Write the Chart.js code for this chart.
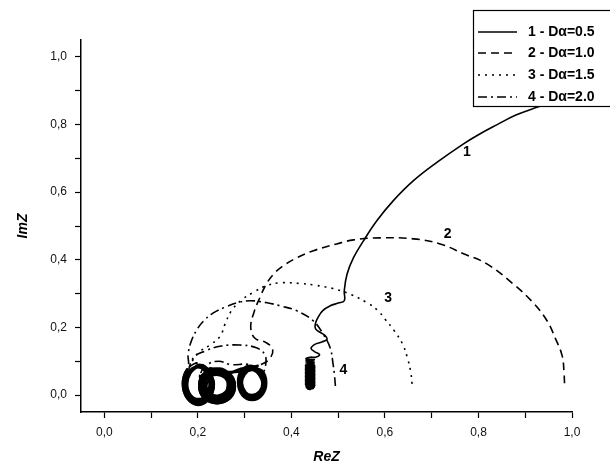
<!DOCTYPE html>
<html>
<head>
<meta charset="utf-8">
<script src="https://cdn.jsdelivr.net/npm/chart.js@4"></script>
<style>
html, body { margin: 0; padding: 0; background: #fff; }
</style>
</head>
<body>
<canvas id="nyq" width="610" height="467"></canvas>
<script>
// curve values, [ReZ, ImZ]
var curve1 = [
  [1.00,0.885],[0.965,0.869],[0.925,0.851],[0.88,0.828],[0.839,0.799],[0.80,0.77],[0.768,0.743],
  [0.711,0.688],[0.661,0.634],
  [0.618,0.575],[0.583,0.516],[0.554,0.456],[0.533,0.407],[0.519,0.358],[0.513,0.308],[0.513,0.279],
  [0.50,0.272],[0.483,0.264],[0.467,0.25],[0.457,0.23],[0.451,0.21],[0.452,0.195],[0.462,0.185],
  [0.472,0.176],[0.476,0.165],[0.465,0.157],[0.45,0.15],[0.442,0.138],[0.45,0.128],[0.46,0.12],
  [0.452,0.112],[0.44,0.112],
  [0.431,0.107],[0.449,0.105],[0.431,0.103],[0.449,0.101],[0.431,0.099],[0.449,0.097],[0.431,0.095],
  [0.449,0.093],[0.431,0.091],[0.449,0.089],[0.431,0.087],[0.449,0.085],[0.431,0.083],[0.449,0.081],
  [0.431,0.079],[0.449,0.077],[0.431,0.075],[0.449,0.073],[0.431,0.071],[0.449,0.069],[0.431,0.067],
  [0.449,0.065],[0.431,0.063],[0.449,0.061],[0.431,0.059],[0.449,0.057],[0.431,0.055],[0.449,0.053],
  [0.431,0.051],[0.449,0.049],[0.431,0.047],[0.449,0.045],[0.431,0.043],[0.449,0.041],[0.431,0.039],
  [0.449,0.037],[0.431,0.035],[0.449,0.033],[0.431,0.031],[0.449,0.029],[0.432,0.027],[0.448,0.025],
  [0.433,0.023],[0.446,0.021],[0.436,0.019],[0.442,0.018]
];
var curve2 = [
  [0.984,0.035],[0.983,0.065],[0.979,0.116],[0.964,0.169],[0.947,0.219],[0.917,0.273],[0.874,0.329],
  [0.818,0.388],[0.768,0.418],[0.718,0.447],[0.661,0.462],[0.59,0.465],[0.533,0.459],[0.497,0.447],
  [0.447,0.427],[0.41,0.405],[0.38,0.38],[0.36,0.355],[0.345,0.325],[0.333,0.29],[0.32,0.245],
  [0.313,0.2],[0.322,0.168],[0.345,0.156],[0.36,0.135],[0.352,0.105],[0.33,0.088],
  [0.316,0.083],[0.297,0.069],[0.289,0.036],[0.297,0.003],[0.316,-0.011],[0.335,0.003],[0.343,0.036],
  [0.335,0.069],[0.316,0.078],[0.30,0.061],[0.294,0.036],[0.302,0.008],[0.316,0.0],[0.332,0.011],
  [0.338,0.036],[0.33,0.063],[0.316,0.086],[0.293,0.072],[0.286,0.036],[0.295,0.0],[0.316,-0.014],
  [0.337,0.0],[0.346,0.036],[0.337,0.072],[0.316,0.076],[0.299,0.064],[0.292,0.036],[0.299,0.008],
  [0.316,-0.004],[0.333,0.008],[0.34,0.036],[0.333,0.064],[0.30,0.08],
  [0.266,0.065],[0.241,0.074],[0.216,0.06],[0.206,0.027],[0.216,-0.006],[0.241,-0.02],[0.266,-0.006],
  [0.276,0.027],[0.266,0.058],[0.241,0.066],[0.222,0.053],[0.214,0.027],[0.222,0.001],[0.241,-0.01],
  [0.26,0.001],[0.268,0.027],[0.262,0.055],[0.241,0.078],[0.213,0.064],[0.203,0.027],[0.213,-0.009],
  [0.241,-0.024],[0.269,-0.009],[0.279,0.027],[0.268,0.06],[0.241,0.069],[0.219,0.057],[0.21,0.027],
  [0.219,-0.003],[0.241,-0.015],[0.263,-0.003],[0.272,0.027],[0.263,0.057],
  [0.224,0.077],[0.201,0.095],[0.178,0.077],[0.168,0.033],[0.178,-0.011],[0.201,-0.029],[0.224,-0.011],
  [0.234,0.033],[0.224,0.07]
];
var curve3 = [
  [0.658,0.033],[0.655,0.07],[0.648,0.11],[0.638,0.15],[0.62,0.19],[0.60,0.225],[0.585,0.25],
  [0.562,0.273],[0.526,0.298],[0.489,0.315],[0.45,0.325],[0.419,0.33],[0.376,0.332],[0.345,0.323],
  [0.32,0.305],[0.295,0.283],[0.272,0.25],[0.258,0.21],[0.248,0.175],[0.228,0.15],[0.205,0.13],
  [0.19,0.105],
  [0.18,0.073],[0.171,0.033],[0.18,-0.007],[0.201,-0.023],[0.222,-0.007],[0.231,0.033],[0.222,0.073],
  [0.201,0.089],[0.184,0.065],[0.177,0.033],[0.184,0.001],[0.201,-0.012],[0.218,0.001],[0.225,0.033],
  [0.218,0.065],[0.201,0.083],[0.182,0.07],[0.174,0.033],[0.182,-0.004],[0.201,-0.018],[0.22,-0.004],
  [0.228,0.033],[0.22,0.07],[0.201,0.095],[0.178,0.078],[0.168,0.033],[0.178,-0.01],[0.201,-0.027],
  [0.224,-0.01],[0.234,0.033],[0.225,0.078],
  [0.241,0.07],[0.263,0.058],[0.272,0.027],[0.263,-0.004],[0.241,-0.016],[0.22,-0.004],
  [0.21,0.027],[0.22,0.056],[0.241,0.062],[0.258,0.052],[0.265,0.027],[0.258,0.003],[0.241,-0.006],
  [0.225,0.003],[0.218,0.027],[0.226,0.05],[0.241,0.078],[0.268,0.063],[0.279,0.027],[0.268,-0.009],
  [0.241,-0.024],[0.214,-0.009],[0.203,0.027],[0.214,0.063],
  [0.29,0.07],[0.316,0.083],[0.335,0.069],[0.343,0.036],[0.335,0.003],[0.316,-0.011],[0.297,0.003],
  [0.289,0.036],[0.297,0.069],[0.316,0.076],[0.333,0.064],[0.34,0.036],[0.333,0.008],[0.316,-0.004],
  [0.299,0.008],[0.292,0.036],[0.299,0.064]
];
var curve4 = [
  [0.494,0.027],[0.492,0.06],[0.489,0.092],[0.483,0.139],[0.468,0.18],[0.447,0.219],[0.412,0.249],
  [0.376,0.264],[0.348,0.273],[0.312,0.279],[0.284,0.273],[0.258,0.26],[0.233,0.243],[0.212,0.219],
  [0.199,0.196],[0.186,0.16],[0.179,0.12],[0.18,0.09],
  [0.171,0.04],[0.176,0.0],[0.195,-0.02],[0.215,-0.015],[0.228,0.015],[0.228,0.055],[0.212,0.08],
  [0.19,0.08],[0.18,0.06],[0.174,0.033],[0.182,-0.002],[0.201,-0.017],[0.22,-0.002],[0.228,0.033],
  [0.22,0.068],[0.201,0.083],[0.182,0.068],
  [0.19,0.11],[0.215,0.13],[0.25,0.145],[0.29,0.148],[0.325,0.14],[0.343,0.12],[0.345,0.09],
  [0.337,0.065],[0.316,0.08],[0.295,0.066],[0.289,0.036],[0.297,0.003],[0.316,-0.008],[0.335,0.003],
  [0.341,0.036],[0.33,0.062],[0.316,0.074],[0.299,0.064],[0.292,0.036],[0.299,0.008],[0.316,-0.003],
  [0.333,0.008],[0.339,0.036],[0.33,0.07],[0.31,0.09],
  [0.27,0.09],[0.245,0.1],[0.22,0.09],[0.205,0.06],[0.21,0.027],[0.22,-0.004],[0.243,-0.014],
  [0.265,-0.002],[0.272,0.027],[0.26,0.05],[0.24,0.06],[0.22,0.05],[0.215,0.027],[0.225,0.005],
  [0.243,-0.002],[0.26,0.01],[0.264,0.03],[0.263,0.057],[0.241,0.069],[0.219,0.057],[0.21,0.027],
  [0.219,-0.003],[0.241,-0.015],[0.263,-0.003],[0.272,0.027]
];

var seriesNames = ['1 - D\u03b1=0.5', '2 - D\u03b1=1.0', '3 - D\u03b1=1.5', '4 - D\u03b1=2.0'];
var curveNumbers = ['1', '2', '3', '4'];
// where the numbers sit next to each curve [ReZ, ImZ]
var numberSpots = [[0.775,0.718],[0.734,0.476],[0.607,0.287],[0.511,0.074]];
var dashes = [[], [8,5], [2,5], [9,4,2,4]];

var xTickValues = [0,0.1,0.2,0.3,0.4,0.5,0.6,0.7,0.8,0.9,1.0];
var yTickValues = [0,0.1,0.2,0.3,0.4,0.5,0.6,0.7,0.8,0.9,1.0];

var allCurves = [curve1, curve2, curve3, curve4];

// the tangled low-frequency end is drawn heavier, as in the original plot
function inTangle(c) {
  var a = c.p0.parsed, b = c.p1.parsed;
  return a.y < 0.09 && b.y < 0.09 && a.x < 0.46 && b.x < 0.46;
}

var datasets = allCurves.map(function(c, i) {
  return {
    label: seriesNames[i],
    data: c.map(function(p){ return {x: p[0], y: p[1]}; }),
    borderColor: '#000',
    borderWidth: 1.6,
    borderDash: dashes[i],
    pointRadius: 0,
    fill: false,
    tension: 0.4,
    segment: {
      borderWidth: function(c) { return inTangle(c) ? 2.6 : undefined; },
      borderDash: function(c) { return inTangle(c) ? [] : undefined; }
    }
  };
});

function commaLabel(v) {
  var k = Math.round(v * 10);
  if (k % 2 !== 0) return '';
  return (k / 10).toFixed(1).replace('.', ',');
}

// legend box and curve numbers drawn on top
var overlay = {
  id: 'overlay',
  afterDraw: function(chart) {
    var ctx = chart.ctx;
    var xs = chart.scales.x, ys = chart.scales.y;
    ctx.save();
    ctx.font = 'bold 14px Arial';
    ctx.fillStyle = '#000';
    ctx.textAlign = 'center';
    ctx.textBaseline = 'middle';
    numberSpots.forEach(function(p, i) {
      ctx.fillText(curveNumbers[i], xs.getPixelForValue(p[0]), ys.getPixelForValue(p[1]));
    });

    ctx.fillStyle = '#fff';
    ctx.fillRect(473, 10, 150, 96);
    ctx.strokeStyle = '#000';
    ctx.lineWidth = 1.2;
    ctx.strokeRect(473.5, 10.5, 150, 96);

    var rows = [32, 53, 75, 97];
    ctx.textAlign = 'left';
    seriesNames.forEach(function(name, i) {
      ctx.beginPath();
      ctx.setLineDash(dashes[i]);
      ctx.lineWidth = 1.6;
      ctx.moveTo(478, rows[i]);
      ctx.lineTo(517, rows[i]);
      ctx.stroke();
      ctx.setLineDash([]);
      ctx.fillStyle = '#000';
      ctx.fillText(name, 528, rows[i]);
    });
    ctx.restore();
  }
};

var ctx = document.getElementById('nyq');
var chart = new Chart(ctx, {
  type: 'line',
  data: { datasets: datasets },
  options: {
    responsive: false,
    animation: false,
    layout: { padding: { left: 0, right: 38, top: 40, bottom: 0 } },
    plugins: { legend: { display: false }, tooltip: { enabled: false } },
    scales: {
      x: {
        type: 'linear',
        min: -0.05,
        max: 1.0,
        afterBuildTicks: function(s) { s.ticks = xTickValues.map(function(v){ return {value: v}; }); },
        afterFit: function(s) { s.height = 55; },
        ticks: {
          autoSkip: false,
          maxRotation: 0,
          color: '#111',
          font: { family: 'Arial', size: 12 },
          padding: 7,
          callback: function(v) { return commaLabel(v); }
        },
        grid: { drawOnChartArea: false, color: '#000', tickLength: 6, tickWidth: 1.2 },
        border: { display: true, color: '#000', width: 1.5 },
        title: {
          display: true,
          text: 'ReZ',
          color: '#000',
          font: { family: 'Arial', size: 14, weight: 'bold', style: 'italic' },
          padding: { top: 0, bottom: 1 }
        }
      },
      y: {
        type: 'linear',
        min: -0.05,
        max: 1.05,
        afterBuildTicks: function(s) { s.ticks = yTickValues.map(function(v){ return {value: v}; }); },
        afterFit: function(s) { s.width = 81; },
        ticks: {
          autoSkip: false,
          color: '#111',
          font: { family: 'Arial', size: 12 },
          padding: 8,
          callback: function(v) { return commaLabel(v); }
        },
        grid: { drawOnChartArea: false, color: '#000', tickLength: 6, tickWidth: 1.2 },
        border: { display: true, color: '#000', width: 1.5 },
        title: {
          display: true,
          text: 'ImZ',
          color: '#000',
          font: { family: 'Arial', size: 14, weight: 'bold', style: 'italic' },
          padding: { top: 15, bottom: 0 }
        }
      }
    }
  },
  plugins: [overlay]
});
</script>
</body>
</html>
